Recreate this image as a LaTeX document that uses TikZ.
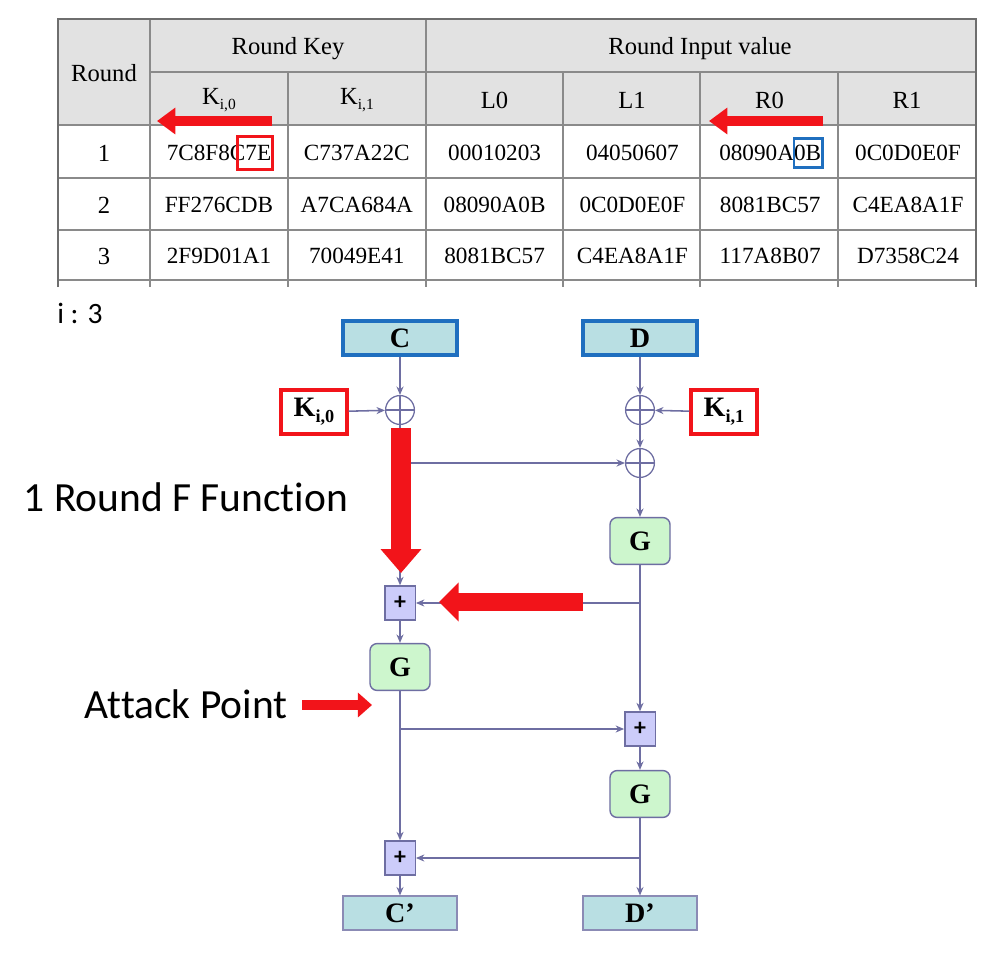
\documentclass[tikz,border=0pt]{standalone}
\usepackage{fontspec}
\setmainfont{Liberation Serif}
\newfontfamily\calibri[Ligatures=NoCommon]{Carlito}
\usetikzlibrary{positioning, arrows.meta, calc}
\definecolor{myred}{HTML}{F2141A}
\definecolor{myblue}{HTML}{1F6FBF}
\definecolor{boxteal}{HTML}{B9DFE3}
\definecolor{boxgreen}{HTML}{CDF6CD}
\definecolor{boxlav}{HTML}{CCCCFA}
\definecolor{wire}{HTML}{6E6EA2}
\definecolor{headgray}{HTML}{E2E2E2}
\definecolor{gridgray}{HTML}{8A8A8A}
\newcommand{\kidx}[2]{K\raisebox{-0.45ex}{\fontsize{#2}{#2}\selectfont i,#1}}
\tikzset{
	regnode/.style={
			rectangle,
			draw=myblue,
			line width=3pt,
			fill=boxteal,
			minimum width=2.85cm,
			minimum height=0.85cm,
			inner sep=0pt,
			font=\fontsize{20}{20}\selectfont\bfseries
		},
	outnode/.style={
			regnode,
			draw=wire!80,
			line width=0.8pt
		},
	keynode/.style={
			rectangle,
			draw=myred,
			line width=2.2pt,
			fill=white,
			minimum width=1.65cm,
			minimum height=1.1cm,
			inner sep=0pt,
			font=\fontsize{20}{20}\selectfont\bfseries
		},
	xornode/.style={
			circle,
			draw=wire,
			line width=0.9pt,
			minimum size=0.72cm,
			inner sep=0pt,
			path picture={
				\draw[wire, line width=0.9pt]
				  (path picture bounding box.north) -- (path picture bounding box.south)
				  (path picture bounding box.west) -- (path picture bounding box.east);
			}
		},
	gnode/.style={
			rectangle,
			rounded corners=5pt,
			draw=wire,
			line width=1pt,
			fill=boxgreen,
			minimum width=1.5cm,
			minimum height=1.17cm,
			inner sep=0pt,
			font=\fontsize{20}{20}\selectfont\bfseries
		},
	addnode/.style={
			rectangle,
			draw=wire,
			line width=1pt,
			fill=boxlav,
			minimum width=0.76cm,
			minimum height=0.85cm,
			inner sep=0pt,
			font=\calibri\fontsize{17}{17}\selectfont\bfseries
		},
	wireline/.style={
			draw=wire,
			line width=1.1pt,
			-{Stealth[length=6pt,width=5pt]}
		},
	bigred/.style={
			draw=myred,
			line width=#1,
			-{Triangle[length=13pt,width=2.6*#1]}
		},
	celltext/.style={font=\fontsize{16.5}{16.5}\selectfont, inner sep=0pt},
	headtext/.style={font=\fontsize{17.5}{17.5}\selectfont, inner sep=0pt},
	notetext/.style={font=\calibri\fontsize{29.5}{29.5}\selectfont, inner sep=0pt}
}

\begin{document}
\begin{tikzpicture}[x=0.025cm, y=-0.025cm]
\useasboundingbox[fill=white] (0,0) rectangle (1007,973);

% table
\fill[headgray] (58,19) rectangle (976,125);
\foreach \x in {150,426}
  \draw[gridgray, line width=1.4pt] (\x,19) -- (\x,287);
\foreach \x in {288,563,700,838}
  \draw[gridgray, line width=1.4pt] (\x,72) -- (\x,287);
\draw[gridgray, line width=1.4pt] (150,72) -- (976,72);
\foreach \y in {125,178,230,280}
  \draw[gridgray, line width=1.4pt] (58,\y) -- (976,\y);
\draw[gridgray!80!black, line width=2pt] (58,287) -- (58,19) -- (976,19) -- (976,287);

\node[headtext] (hround) at (104,73) {Round};
\node[headtext] (hkey) at (288,49) {Round Key};
\node[headtext] (hinput) at (700,49) {Round Input value};
\node[headtext] (hk0) at (219,100) {\kidx{0}{11}};
\node[headtext] (hk1) at (357,100) {\kidx{1}{11}};
\foreach \lab [count=\i] in {L0,L1,R0,R1}
  \node[headtext] (h\lab) at ({494.5+137.5*(\i-1)},100) {\lab};

\foreach \row/\y/\vals in {1/153/{7C8F8C7E,C737A22C,00010203,04050607,08090A0B,0C0D0E0F},
                          2/205/{FF276CDB,A7CA684A,08090A0B,0C0D0E0F,8081BC57,C4EA8A1F},
                          3/256/{2F9D01A1,70049E41,8081BC57,C4EA8A1F,117A8B07,D7358C24}} {
  \node[headtext] (r\row) at (104,\y) {\row};
  \foreach \v [count=\c] in \vals
    \node[celltext] (v\row\c) at ({219+137.8*(\c-1)},\y) {\v};
}

% marked bytes
\node[draw=myred, line width=2.2pt, anchor=east, inner sep=0pt,
      minimum width=0.88cm, minimum height=0.82cm] (mark0) at ([xshift=2pt]v11.east) {};
\node[draw=myblue, line width=2pt, anchor=east, inner sep=0pt,
      minimum width=0.72cm, minimum height=0.72cm] (mark1) at ([xshift=2pt]v15.east) {};

\coordinate (ta1) at (272,121);
\coordinate (tb1) at (157,121);
\coordinate (ta2) at (823,121);
\coordinate (tb2) at (709,121);
\draw[bigred=7pt] (ta1) -- (tb1);
\draw[bigred=7pt] (ta2) -- (tb2);

\node[notetext, font=\calibri\fontsize{21}{21}\selectfont, anchor=west] (iround) at (57,313) {i : 3};

% diagram
\node[regnode] (C) at (400,338) {C};
\node[regnode] (D) at (640,338) {D};
\node[xornode] (xl) at (400,410) {};
\node[xornode] (xr) at (640,410) {};
\node[keynode] (kl) at (314,412) {\kidx{0}{13}};
\node[keynode] (kr) at (724,412) {\kidx{1}{13}};
\node[xornode] (xr2) at (640,463) {};
\node[gnode] (gr1) at (640,541) {G};
\node[addnode] (pl1) at (400,603) {+};
\node[gnode] (gl) at (400,667) {G};
\node[addnode] (pr) at (640,729) {+};
\node[gnode] (gr2) at (640,794) {G};
\node[addnode] (pl2) at (400,858) {+};
\node[outnode] (cp) at (400,913) {C’};
\node[outnode] (dp) at (640,913) {D’};

\draw[wireline] (C) -- (xl);
\draw[wireline] (kl) -- (xl);
\draw[wireline] (D) -- (xr);
\draw[wireline] (kr) -- (xr);
\draw[wireline] (xr) -- (xr2);
\draw[wireline] (xl) -- (pl1);
\draw[wireline] (xl |- xr2) -- (xr2);
\draw[wireline] (xr2) -- (gr1);
\draw[wireline] (gr1) -- (pr);
\draw[wireline] (gr1 |- pl1) -- (pl1);
\draw[wireline] (pl1) -- (gl);
\draw[wireline] (gl) -- (pl2);
\draw[wireline] (gl |- pr) -- (pr);
\draw[wireline] (pr) -- (gr2);
\draw[wireline] (gr2) -- (dp);
\draw[wireline] (gr2 |- pl2) -- (pl2);
\draw[wireline] (pl2) -- (cp);

% annotations
\coordinate (fa) at (401,428);
\coordinate (fb) at (401,573);
\draw[bigred=14pt, -{Triangle[length=17pt,width=28pt]}] (fa) -- (fb);
\coordinate (ga) at (583,602);
\coordinate (gb) at (439,602);
\draw[bigred=13pt, -{Triangle[length=14pt,width=27pt]}] (ga) -- (gb);
\node[notetext] (ffunc) at (186,497) {1 Round F Function};
\node[notetext] (attack) at (186,704) {Attack Point};
\coordinate (aa) at (302,705);
\coordinate (ab) at (372,705);
\draw[bigred=6.5pt, -{Triangle[length=10pt,width=17pt]}] (aa) -- (ab);
\end{tikzpicture}
\end{document}
